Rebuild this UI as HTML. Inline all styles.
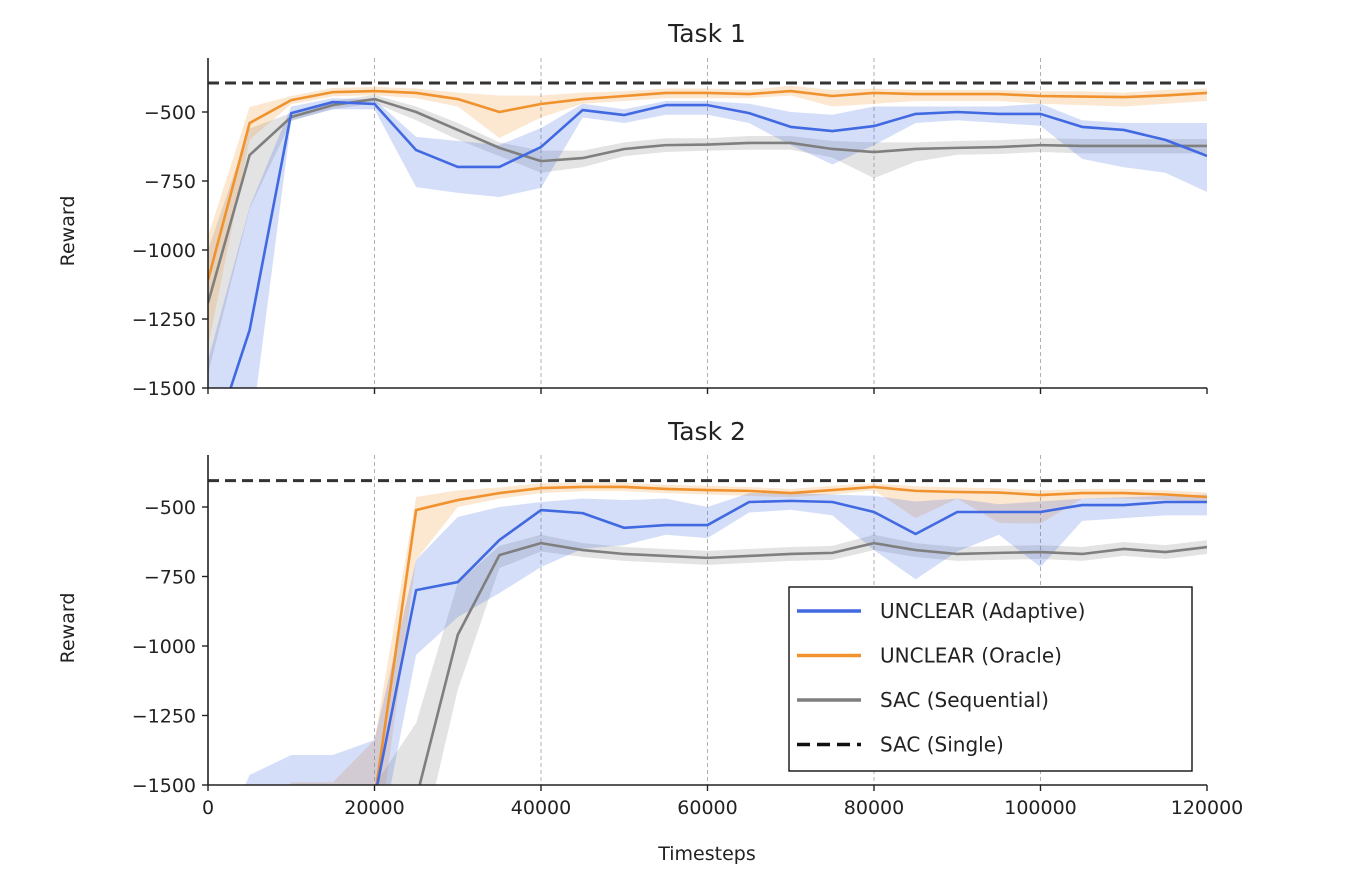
<!DOCTYPE html>
<html><head><meta charset="utf-8">
<style>
body{margin:0;background:#fff;}
svg{display:block;font-family:"DejaVu Sans","Liberation Sans",sans-serif;}
</style></head>
<body>
<svg id="chart" width="1348" height="884" viewBox="0 0 1348 884"></svg>
<script>
const steps=[0,5000,10000,15000,20000,25000,30000,35000,40000,45000,50000,55000,60000,65000,70000,75000,80000,85000,90000,95000,100000,105000,110000,115000,120000];
const xTicks=[0,20000,40000,60000,80000,100000,120000];
const yTicks=[-500,-750,-1000,-1250,-1500];
const singleRef1=-395, singleRef2=-405;
// Task 1
const t1Adaptive=[-1750,-1290,-504,-464,-471,-638,-699,-699,-627,-493,-511,-475,-475,-504,-554,-569,-551,-507,-500,-507,-507,-554,-565,-601,-659];
const t1AdaptiveLo=[-2000,-1700,-530,-490,-490,-772,-793,-808,-775,-520,-540,-510,-510,-540,-620,-690,-620,-540,-530,-540,-550,-670,-700,-720,-790];
const t1AdaptiveHi=[-1400,-844,-480,-450,-455,-590,-605,-620,-558,-470,-490,-460,-460,-470,-500,-510,-480,-480,-480,-480,-470,-530,-540,-540,-540];
const t1Oracle=[-1109,-540,-457,-428,-424,-431,-453,-500,-471,-453,-442,-431,-431,-435,-424,-442,-431,-435,-435,-435,-442,-444,-446,-440,-431];
const t1OracleLo=[-1350,-600,-472,-443,-439,-450,-480,-594,-520,-470,-460,-450,-450,-450,-440,-480,-470,-460,-460,-460,-470,-475,-480,-470,-460];
const t1OracleHi=[-950,-482,-442,-413,-409,-415,-430,-440,-440,-430,-425,-415,-415,-420,-405,-420,-415,-420,-420,-420,-425,-425,-430,-420,-415];
const t1Seq=[-1192,-656,-518,-475,-453,-500,-565,-630,-678,-667,-634,-620,-618,-612,-612,-634,-645,-634,-630,-627,-620,-623,-623,-623,-623];
const t1SeqLo=[-1450,-850,-533,-490,-468,-530,-600,-660,-720,-700,-660,-645,-640,-637,-637,-665,-740,-680,-655,-652,-645,-650,-650,-650,-650];
const t1SeqHi=[-1000,-560,-503,-460,-438,-480,-540,-610,-640,-640,-610,-595,-595,-587,-587,-605,-610,-610,-605,-602,-595,-598,-598,-598,-598];
// Task 2
const t2Adaptive=[-1800,-1800,-1800,-1800,-1550,-799,-770,-619,-511,-522,-575,-565,-565,-482,-478,-482,-518,-597,-518,-518,-518,-493,-493,-482,-482];
const t2AdaptiveLo=[-1800,-1800,-1800,-1800,-1800,-1032,-896,-810,-716,-650,-637,-600,-612,-520,-510,-530,-655,-760,-660,-600,-716,-550,-540,-530,-530];
const t2AdaptiveHi=[-1800,-1464,-1392,-1392,-1338,-690,-536,-500,-482,-470,-475,-470,-500,-450,-450,-455,-460,-480,-470,-490,-480,-470,-465,-460,-455];
const t2Oracle=[-1800,-1800,-1800,-1800,-1550,-511,-475,-450,-432,-428,-428,-435,-439,-442,-450,-439,-428,-442,-446,-448,-457,-450,-450,-455,-464];
const t2OracleLo=[-1800,-1800,-1800,-1800,-1800,-690,-500,-470,-450,-443,-443,-450,-455,-460,-465,-455,-440,-540,-470,-557,-560,-470,-470,-475,-480];
const t2OracleHi=[-1800,-1800,-1490,-1490,-1338,-464,-440,-430,-415,-413,-413,-420,-424,-428,-435,-424,-415,-425,-430,-432,-440,-435,-435,-440,-448];
const t2Seq=[-1800,-1800,-1800,-1800,-1800,-1550,-960,-673,-630,-655,-669,-676,-683,-676,-669,-665,-630,-655,-669,-665,-662,-669,-651,-662,-644];
const t2SeqLo=[-1800,-1800,-1800,-1800,-1800,-1800,-1158,-720,-660,-680,-694,-701,-708,-701,-694,-690,-655,-680,-694,-690,-687,-694,-676,-687,-669];
const t2SeqHi=[-1800,-1800,-1800,-1800,-1500,-1277,-773,-640,-600,-630,-644,-651,-658,-651,-644,-640,-600,-630,-644,-640,-637,-644,-626,-637,-619];

const NS="http://www.w3.org/2000/svg";
const svg=document.getElementById('chart');
function mk(tag,attrs,parent){const e=document.createElementNS(NS,tag);for(const k in attrs)e.setAttribute(k,attrs[k]);(parent||svg).appendChild(e);return e;}
const X0=208,X1=1207;
function xs(v){return X0+(v-0)/120000*(X1-X0);}
const BLUE="#4169e1",ORANGE="#f0922e",GRAY="#7f7f7f";

const panels=[
 {title:"Task 1",top:58,y500:112,y1500:388,ref:singleRef1,
  series:[[t1Seq,t1SeqLo,t1SeqHi,GRAY,'sequential'],[t1Oracle,t1OracleLo,t1OracleHi,ORANGE,'oracle'],[t1Adaptive,t1AdaptiveLo,t1AdaptiveHi,BLUE,'adaptive']],xlabels:false,titleY:42},
 {title:"Task 2",top:455,y500:507,y1500:785,ref:singleRef2,
  series:[[t2Seq,t2SeqLo,t2SeqHi,GRAY,'sequential'],[t2Oracle,t2OracleLo,t2OracleHi,ORANGE,'oracle'],[t2Adaptive,t2AdaptiveLo,t2AdaptiveHi,BLUE,'adaptive']],xlabels:true,titleY:440}
];
panels.forEach((p,pi)=>{
  const ys=v=>p.y500+(v+500)/(-1000)*(p.y1500-p.y500);
  const g=mk('g',{});
  
  
  const cid='clip'+pi;
  const cp=mk('clipPath',{id:cid},g);mk('rect',{x:X0,y:p.top,width:X1-X0,height:p.y1500-p.top},cp);
  xTicks.forEach(t=>{if(t===0||t===120000)return;
    const l=mk('line',{x1:xs(t),x2:xs(t),y1:p.top,y2:p.y1500,stroke:'#b0b0b0','stroke-width':1,'stroke-dasharray':'4,3'},g);
    
    });
  const dg=mk('g',{'clip-path':'url(#'+cid+')'},g);
  p.series.forEach(s=>{
    const [m,lo,hi,col,nm]=s;
    let d='';steps.forEach((t,i)=>{d+=(i?'L':'M')+xs(t)+','+ys(hi[i]);});
    for(let i=steps.length-1;i>=0;i--)d+='L'+xs(steps[i])+','+ys(lo[i]);
    const b=mk('path',{d:d+'Z',fill:col,'fill-opacity':0.22,stroke:'none'},dg);
    
    
  });
  p.series.forEach(s=>{
    const [m,lo,hi,col,nm]=s;
    const pts=steps.map((t,i)=>xs(t)+','+ys(m[i])).join(' ');
    const l=mk('polyline',{points:pts,fill:'none',stroke:col,'stroke-width':2.6,'stroke-linejoin':'round'},dg);
    
    
  });
  const r=mk('line',{x1:X0,x2:X1,y1:ys(p.ref),y2:ys(p.ref),stroke:'#333','stroke-width':3,'stroke-dasharray':'11,6'},dg);
  
  
  const ax=mk('path',{d:`M${X0},${p.top}V${p.y1500}H${X1}`,fill:'none',stroke:'#222','stroke-width':1.6},g);
  
  
  yTicks.forEach(t=>{const y=ys(t);
    mk('line',{x1:X0-6,x2:X0,y1:y,y2:y,stroke:'#222','stroke-width':1.4},g);
    const tx=mk('text',{x:X0-12,y:y+7,'text-anchor':'end','font-size':19,fill:'#222'},g);
    tx.textContent='\u2212'+Math.abs(t);
    
    });
  xTicks.forEach(t=>{const x=xs(t);
    mk('line',{x1:x,x2:x,y1:p.y1500,y2:p.y1500+6,stroke:'#222','stroke-width':1.4},g);
    if(p.xlabels){const tx=mk('text',{x:x,y:p.y1500+29,'text-anchor':'middle','font-size':19,fill:'#222'},g);
      tx.textContent=String(t);
      
      }});
  const ti=mk('text',{x:707,y:p.titleY,'text-anchor':'middle','font-size':25,fill:'#222'},g);
  ti.textContent=p.title;
  
  
  const yl=mk('text',{x:0,y:0,'text-anchor':'middle','font-size':19,fill:'#222',transform:`translate(74,${(p.top+p.y1500)/2+8}) rotate(-90)`},g);
  yl.textContent='Reward';
  
  
});
const xl=mk('text',{x:707,y:860,'text-anchor':'middle','font-size':19,fill:'#222'});
xl.textContent='Timesteps';


const lg=mk('g',{});


mk('rect',{x:789,y:587,width:403,height:184,fill:'#fff',stroke:'#111','stroke-width':1.4},lg);
const entries=[["UNCLEAR (Adaptive)",BLUE,null],["UNCLEAR (Oracle)",ORANGE,null],["SAC (Sequential)",GRAY,null],["SAC (Single)","#111",'13,7']];
entries.forEach((e,i)=>{const y=611+i*44.5;
  const ent=mk('g',{},lg);
  
  
  const a={x1:797,x2:861,y1:y,y2:y,stroke:e[1],'stroke-width':3.5};
  if(e[2])a['stroke-dasharray']=e[2];
  mk('line',a,ent);
  const t=mk('text',{x:880,y:y+7,'font-size':20,fill:'#222'},ent);t.textContent=e[0];});
</script>
</body></html>
